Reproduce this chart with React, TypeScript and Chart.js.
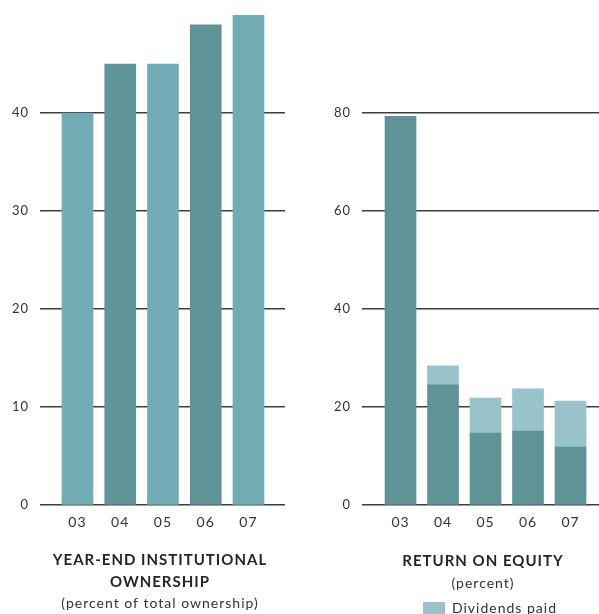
import React, { useEffect, useRef } from 'react';
import { Chart, registerables } from 'chart.js';

Chart.register(...registerables);

// ---- data ----
const YEARS = ['03', '04', '05', '06', '07'];
const OWNERSHIP = [40, 45, 45, 49, 50];
const OWNERSHIP_TICKS = [0, 10, 20, 30, 40];
const ROE_BASE = [79.3, 24.5, 14.7, 15.1, 11.8];
const DIVIDENDS = [0, 3.9, 7.1, 8.6, 9.4];
const ROE_TICKS = [0, 20, 40, 60, 80];

const LIGHT = '#72adb5';
const DARK = '#5e9398';
const DIV = '#98c3ca';
const GRID = '#3e3e3e';
const TEXT = '#333333';
const FONT = 'Lato';

const spacingPlugin = {
  id: 'spacing',
  beforeDraw(chart: any) {
    Object.values(chart.scales).forEach((s: any) => {
      s._computeLabelArea = () => undefined;
    });
    chart.ctx.letterSpacing = '1px';
  },
  afterDraw(chart: any) {
    chart.ctx.letterSpacing = '0px';
  },
};

function xScale(min: number, max: number) {
  return {
    type: 'linear' as const,
    min,
    max,
    offset: false,
    stacked: true,
    afterBuildTicks: (axis: any) => {
      axis.ticks = YEARS.map((_, i) => ({ value: i }));
    },
    ticks: {
      callback: (v: any) => YEARS[v] ?? '',
      color: TEXT,
      font: { family: FONT, size: 14, lineHeight: '16px' },
      padding: 9,
      maxRotation: 0,
      autoSkip: false,
    },
    grid: { display: false, drawTicks: false, offset: false },
    border: { display: false },
  };
}

function yScale(max: number, ticks: number[], width: number) {
  return {
    type: 'linear' as const,
    min: 0,
    max,
    stacked: true,
    afterBuildTicks: (axis: any) => {
      axis.ticks = ticks.map((v) => ({ value: v }));
    },
    afterFit: (axis: any) => {
      axis.width = width;
      axis.paddingTop = 0;
      axis.paddingBottom = 0;
    },
    ticks: {
      color: TEXT,
      font: { family: FONT, size: 13 },
      padding: 11,
    },
    grid: { color: GRID, lineWidth: 1.4, drawTicks: false },
    border: { display: false },
  };
}

function OwnershipChart() {
  const ref = useRef<HTMLCanvasElement>(null);
  useEffect(() => {
    const chart = new Chart(ref.current!, {
      type: 'bar',
      data: {
        datasets: [
          {
            label: 'Institutional ownership',
            data: OWNERSHIP.map((v, i) => ({ x: i, y: v })),
            backgroundColor: OWNERSHIP.map((_, i) => (i % 2 ? DARK : LIGHT)),
            borderWidth: 0,
            barThickness: 31,
          },
        ],
      },
      options: {
        responsive: false,
        animation: false,
        layout: { padding: { top: 15, left: 35, right: 35, bottom: 0 } },
        scales: {
          x: xScale(-0.877, 4.854),
          y: yScale(50, OWNERSHIP_TICKS, 5),
        },
        plugins: {
          legend: { display: false },
          tooltip: { enabled: false },
          title: {
            display: true,
            position: 'bottom',
            weight: 1,
            text: ['YEAR-END INSTITUTIONAL', 'OWNERSHIP'],
            color: '#262626',
            font: { family: FONT, size: 15, weight: 'bold', lineHeight: '22px' },
            padding: { top: 10, bottom: 0 },
          },
          subtitle: {
            display: true,
            position: 'bottom',
            weight: 2,
            text: '(percent of total ownership)',
            color: TEXT,
            font: { family: FONT, size: 14, lineHeight: '21px' },
            padding: { top: 0, bottom: 0 },
          },
        } as any,
      } as any,
      plugins: [spacingPlugin],
    });
    return () => chart.destroy();
  }, []);
  return (
    <canvas
      ref={ref}
      width={320}
      height={614}
      style={{ position: 'absolute', left: 0, top: 0, width: 320, height: 614 }}
    />
  );
}

function RoeChart() {
  const ref = useRef<HTMLCanvasElement>(null);
  useEffect(() => {
    const chart = new Chart(ref.current!, {
      type: 'bar',
      data: {
        datasets: [
          {
            label: 'Return on equity',
            data: ROE_BASE.map((v, i) => ({ x: i, y: v })),
            backgroundColor: DARK,
            borderWidth: 0,
            barThickness: 31,
          },
          {
            label: 'Dividends paid',
            data: DIVIDENDS.map((v, i) => ({ x: i, y: v })),
            backgroundColor: DIV,
            borderWidth: 0,
            barThickness: 31,
          },
        ],
      },
      options: {
        responsive: false,
        animation: false,
        layout: { padding: { top: 113, left: 0, right: 0, bottom: 0 } },
        scales: {
          x: xScale(-0.906, 5.776),
          y: yScale(80, ROE_TICKS, 42),
        },
        plugins: {
          tooltip: { enabled: false },
          title: {
            display: true,
            position: 'bottom',
            weight: 1,
            text: 'RETURN ON EQUITY',
            color: '#262626',
            font: { family: FONT, size: 15, weight: 'bold', lineHeight: '22px' },
            padding: { top: 11, bottom: 0 },
          },
          subtitle: {
            display: true,
            position: 'bottom',
            weight: 2,
            text: '(percent)',
            color: TEXT,
            font: { family: FONT, size: 14, lineHeight: '22px' },
            padding: { top: 0, bottom: 0 },
          },
          legend: {
            display: true,
            position: 'bottom',
            weight: 3,
            labels: {
              filter: (item: any) => item.datasetIndex === 1,
              boxWidth: 22,
              boxHeight: 12,
              padding: 7,
              color: TEXT,
              font: { family: FONT, size: 14 },
            },
          },
        } as any,
      } as any,
      plugins: [spacingPlugin],
    });
    return () => chart.destroy();
  }, []);
  return (
    <canvas
      ref={ref}
      width={326}
      height={625}
      style={{ position: 'absolute', left: 320, top: 0, width: 326, height: 625 }}
    />
  );
}

export default function App() {
  return (
    <div
      style={{
        position: 'fixed',
        left: 0,
        top: 0,
        width: 599,
        height: 614,
        overflow: 'hidden',
        background: '#ffffff',
      }}
    >
      <OwnershipChart />
      <RoeChart />
    </div>
  );
}
